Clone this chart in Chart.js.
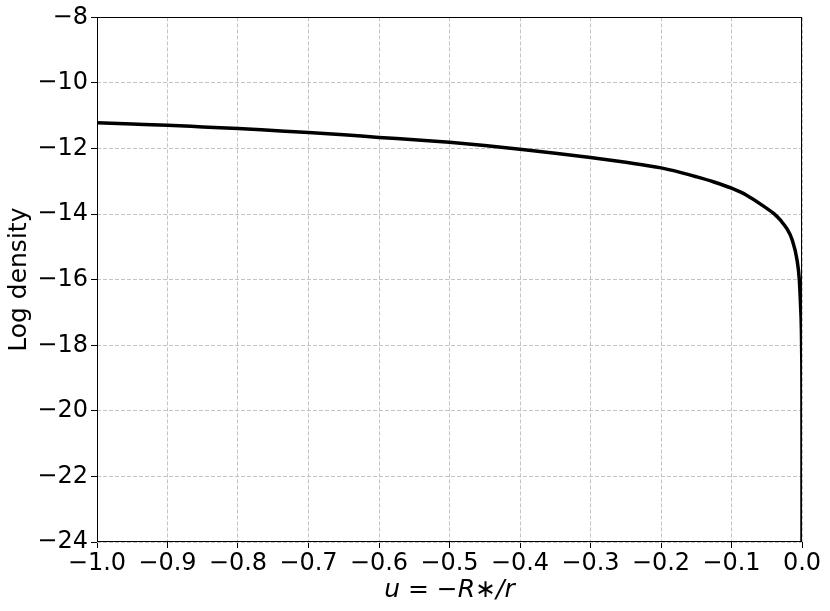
<!DOCTYPE html>
<html>
<head>
<meta charset="utf-8">
<script src="https://cdn.jsdelivr.net/npm/chart.js@4/dist/chart.umd.min.js"></script>
<style>
  html, body { margin: 0; padding: 0; background: #fff; }
  #wrap { width: 830px; height: 611px; }
</style>
</head>
<body>
<div id="wrap"><canvas id="grafico"></canvas></div>
<script>
// valores
const uValues = [-1.0, -0.95, -0.9, -0.85, -0.8, -0.75, -0.7, -0.65, -0.6, -0.55,
  -0.5, -0.45, -0.4, -0.35, -0.3, -0.25, -0.2, -0.174, -0.15, -0.125,
  -0.1, -0.078, -0.055, -0.039, -0.03, -0.021, -0.014, -0.0071, -0.0038, -0.002,
  -0.001, -0.0004, -0.0001, -0.00002, -0.000003, -0.0000005];
const logDensity = [-11.21, -11.25, -11.29, -11.34, -11.39, -11.45, -11.51, -11.58, -11.66, -11.73,
  -11.81, -11.91, -12.02, -12.14, -12.27, -12.42, -12.59, -12.72, -12.86, -13.02,
  -13.21, -13.43, -13.75, -14.0, -14.2, -14.46, -14.78, -15.39, -16.0, -16.81,
  -17.4, -18.3, -19.5, -21.0, -22.6, -24.0];
const xTicks = [-1.0, -0.9, -0.8, -0.7, -0.6, -0.5, -0.4, -0.3, -0.2, -0.1, 0.0];
const yTicks = [-24, -22, -20, -18, -16, -14, -12, -10, -8];

const pontos = uValues.map((u, i) => ({ x: u, y: logDensity[i] }));
const menos = s => s.replace('-', '\u2212');

// moldura em volta da area do grafico
const moldura = {
  id: 'moldura',
  afterDatasetsDraw(chart) {
    const a = chart.chartArea;
    const c = chart.ctx;
    c.save();
    c.strokeStyle = '#000';
    c.lineWidth = 1;
    c.strokeRect(Math.round(a.left) + 0.5, Math.round(a.top) + 0.5,
      Math.round(a.right - a.left) - 1, Math.round(a.bottom - a.top) - 1);
    c.restore();
  }
};

const ctx = document.getElementById('grafico').getContext('2d');
const grafico = new Chart(ctx, {
  type: 'line',
  data: {
    datasets: [{
      data: pontos,
      borderColor: '#000',
      borderWidth: 3.5,
      pointRadius: 0,
      cubicInterpolationMode: 'monotone',
      fill: false
    }]
  },
  options: {
    responsive: true,
    maintainAspectRatio: false,
    animation: false,
    layout: { padding: { top: 17, right: 28, left: 0, bottom: 0 } },
    plugins: { legend: { display: false }, tooltip: { enabled: false } },
    scales: {
      x: {
        type: 'linear',
        min: -1,
        max: 0,
        afterBuildTicks: s => { s.ticks = xTicks.map(v => ({ value: v })); },
        afterFit: s => { s.height = 69; },
        ticks: {
          color: '#000',
          font: { family: 'DejaVu Sans', size: 24 },
          padding: 1,
          maxRotation: 0,
          autoSkip: false,
          callback: v => menos((Math.abs(v) < 1e-9 ? 0 : v).toFixed(1))
        },
        grid: { color: '#c4c4c4', lineWidth: 1, tickLength: 6, tickColor: '#000', tickBorderDash: [] },
        border: { display: false, dash: [4, 2] },
        title: {
          display: true,
          text: 'u = \u2212R\u2217/r',
          color: '#000',
          font: { family: 'DejaVu Sans', size: 25, style: 'italic' },
          padding: { top: 0, bottom: 6 }
        }
      },
      y: {
        type: 'linear',
        min: -24,
        max: -8,
        afterBuildTicks: s => { s.ticks = yTicks.map(v => ({ value: v })); },
        afterFit: s => { s.width = 97; },
        ticks: {
          color: '#000',
          font: { family: 'DejaVu Sans', size: 24 },
          padding: 3,
          callback: v => menos(String(v))
        },
        grid: { color: '#c4c4c4', lineWidth: 1, tickLength: 6, tickColor: '#000', tickBorderDash: [] },
        border: { display: false, dash: [4, 2] },
        title: {
          display: true,
          text: 'Log density',
          color: '#000',
          font: { family: 'DejaVu Sans', size: 25 },
          padding: { top: 4, bottom: 0 }
        }
      }
    }
  },
  plugins: [moldura]
});
</script>
</body>
</html>
